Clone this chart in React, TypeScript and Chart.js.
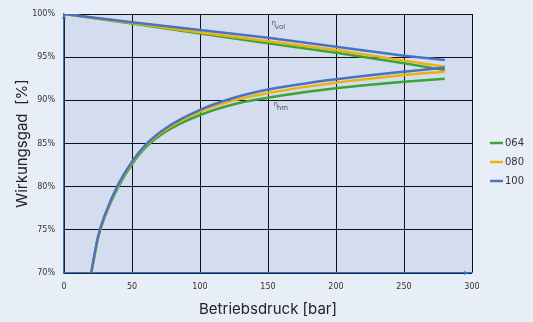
import React, { useEffect, useRef } from "react";
import { Chart, registerables } from "chart.js";

Chart.register(...registerables);

// ---- data ----
const X_HM = [20, 25, 30, 40, 50, 60, 75, 100, 125, 150, 175, 200, 225, 250, 280];
const HM_064 = [70, 74.0, 76.5, 80.0, 82.6, 84.55, 86.4, 88.3, 89.55, 90.3, 90.9, 91.4, 91.8, 92.15, 92.5];
const HM_080 = [70, 74.1, 76.6, 80.2, 82.8, 84.75, 86.65, 88.7, 90.0, 90.85, 91.5, 92.05, 92.5, 92.94, 93.3];
const HM_100 = [70, 74.2, 76.7, 80.3, 82.9, 84.85, 86.8, 88.9, 90.3, 91.25, 91.9, 92.43, 92.9, 93.32, 93.8];

const X_VOL = [0, 50, 100, 150, 200, 250, 280];
const VOL_064 = [100, 98.9, 97.75, 96.6, 95.5, 94.3, 93.5];
const VOL_080 = [100, 98.95, 97.85, 96.85, 95.83, 94.6, 93.9];
const VOL_100 = [100, 99.05, 98.15, 97.25, 96.2, 95.17, 94.67];

const SERIES_NAMES = ["064", "080", "100"];
const SERIES_COLORS = ["#3aa435", "#ecb10c", "#4a72c2"];

const X_TICKS = [0, 50, 100, 150, 200, 250, 300];
const Y_TICKS = [70, 75, 80, 85, 90, 95, 100];

const X_TITLE = "Betriebsdruck [bar]";
const Y_TITLE = "Wirkungsgad  [%]";

const ANNOTATIONS = [
  { main: "η", sub: "vol", x: 152.5, y: 98.75 },
  { main: "η", sub: "hm", x: 154, y: 89.3 },
];

const PAGE_BG = "#e8eef8";
const PLOT_BG = "#d4ddf0";
const AXIS_BLUE = "#2f74c0";

const pts = (xs: number[], ys: number[]) => xs.map((x, i) => ({ x, y: ys[i] }));

export default function App() {
  const ref = useRef<HTMLCanvasElement | null>(null);

  useEffect(() => {
    const canvas = ref.current!;
    const hm = [HM_064, HM_080, HM_100];
    const vol = [VOL_064, VOL_080, VOL_100];
    const datasets: any[] = [];
    // Chart.js draws dataset 0 on top, so push the blue series first
    for (let i = 2; i >= 0; i--) {
      datasets.push({
        label: SERIES_NAMES[i],
        data: pts(X_HM, hm[i]),
        borderColor: SERIES_COLORS[i],
        backgroundColor: SERIES_COLORS[i],
        borderWidth: 2.5,
        pointRadius: 0,
        cubicInterpolationMode: "monotone",
        legendIndex: i,
      });
      datasets.push({
        label: SERIES_NAMES[i],
        data: pts(X_VOL, vol[i]),
        borderColor: SERIES_COLORS[i],
        backgroundColor: SERIES_COLORS[i],
        borderWidth: 2.5,
        pointRadius: 0,
        tension: 0,
        legendIndex: -1,
      });
    }

    const bgPlugin = {
      id: "plotbg",
      beforeDraw(chart: any) {
        const { ctx, chartArea } = chart;
        ctx.save();
        ctx.fillStyle = PLOT_BG;
        ctx.fillRect(chartArea.left, chartArea.top, chartArea.right - chartArea.left, chartArea.bottom - chartArea.top);
        ctx.restore();
      },
      afterDraw(chart: any) {
        const { ctx, chartArea, scales } = chart;
        ctx.save();
        // axes arrows
        ctx.fillStyle = AXIS_BLUE;
        ctx.beginPath();
        ctx.moveTo(chartArea.left, chartArea.top);
        ctx.lineTo(chartArea.left - 2, chartArea.top + 5);
        ctx.lineTo(chartArea.left + 2, chartArea.top + 5);
        ctx.closePath();
        ctx.fill();
        ctx.beginPath();
        ctx.moveTo(chartArea.right - 3, chartArea.bottom);
        ctx.lineTo(chartArea.right - 8, chartArea.bottom - 2);
        ctx.lineTo(chartArea.right - 8, chartArea.bottom + 2);
        ctx.closePath();
        ctx.fill();
        // annotations
        ctx.fillStyle = "#555";
        ctx.textBaseline = "alphabetic";
        for (const a of ANNOTATIONS) {
          const px = scales.x.getPixelForValue(a.x);
          const py = scales.y.getPixelForValue(a.y);
          ctx.font = "7px 'DejaVu Sans'";
          ctx.fillText(a.main, px, py);
          const w = ctx.measureText(a.main).width;
          ctx.fillText(a.sub, px + w - 1, py + 4);
        }
        // legend
        const items = chart.data.datasets
          .filter((d: any) => d.legendIndex >= 0)
          .sort((a: any, b: any) => a.legendIndex - b.legendIndex);
        const lx = chartArea.right + 18;
        let ly = 143;
        ctx.font = "10px 'DejaVu Sans'";
        ctx.textBaseline = "middle";
        for (const d of items) {
          ctx.strokeStyle = d.borderColor;
          ctx.lineWidth = 2.5;
          ctx.beginPath();
          ctx.moveTo(lx, ly);
          ctx.lineTo(lx + 13, ly);
          ctx.stroke();
          ctx.fillStyle = "#333";
          ctx.fillText(d.label, lx + 15, ly + 0.5);
          ly += 19;
        }
        ctx.restore();
      },
    };

    const chart = new Chart(canvas, {
      type: "line",
      data: { datasets },
      options: {
        animation: false,
        responsive: false,
        layout: { padding: { left: 0, top: 14, right: 61, bottom: 0 } },
        plugins: { legend: { display: false }, tooltip: { enabled: false } },
        scales: {
          x: {
            type: "linear",
            min: 0,
            max: 300,
            afterBuildTicks: (s: any) => {
              s.ticks = X_TICKS.map((v) => ({ value: v }));
            },
            afterFit: (s: any) => {
              s.height = 49;
            },
            grid: { color: "#111", lineWidth: 1, drawTicks: false },
            border: { color: AXIS_BLUE, width: 1.2 },
            ticks: { color: "#333", font: { family: "'DejaVu Sans'", size: 8 }, padding: 9, maxRotation: 0 },
            title: {
              display: true,
              text: X_TITLE,
              color: "#222",
              font: { family: "Inter", size: 15 },
              padding: { top: 0, bottom: 4 },
            },
          },
          y: {
            type: "linear",
            min: 70,
            max: 100,
            afterBuildTicks: (s: any) => {
              s.ticks = Y_TICKS.map((v) => ({ value: v }));
            },
            afterFit: (s: any) => {
              s.width = 64;
            },
            grid: { color: "#111", lineWidth: 1, drawTicks: false },
            border: { color: AXIS_BLUE, width: 1.2 },
            ticks: {
              color: "#333",
              font: { family: "'DejaVu Sans'", size: 8 },
              padding: 9,
              callback: (v: any) => v + "%",
            },
            title: {
              display: true,
              text: Y_TITLE,
              color: "#222",
              font: { family: "Inter", size: 15 },
              padding: { top: 13, bottom: 0 },
            },
          },
        },
      } as any,
      plugins: [bgPlugin],
    });
    return () => chart.destroy();
  }, []);

  return (
    <div style={{ position: "fixed", left: 0, top: 0, width: 533, height: 322, background: PAGE_BG }}>
      <canvas ref={ref} width={533} height={322} style={{ display: "block", width: 533, height: 322 }} />
    </div>
  );
}
